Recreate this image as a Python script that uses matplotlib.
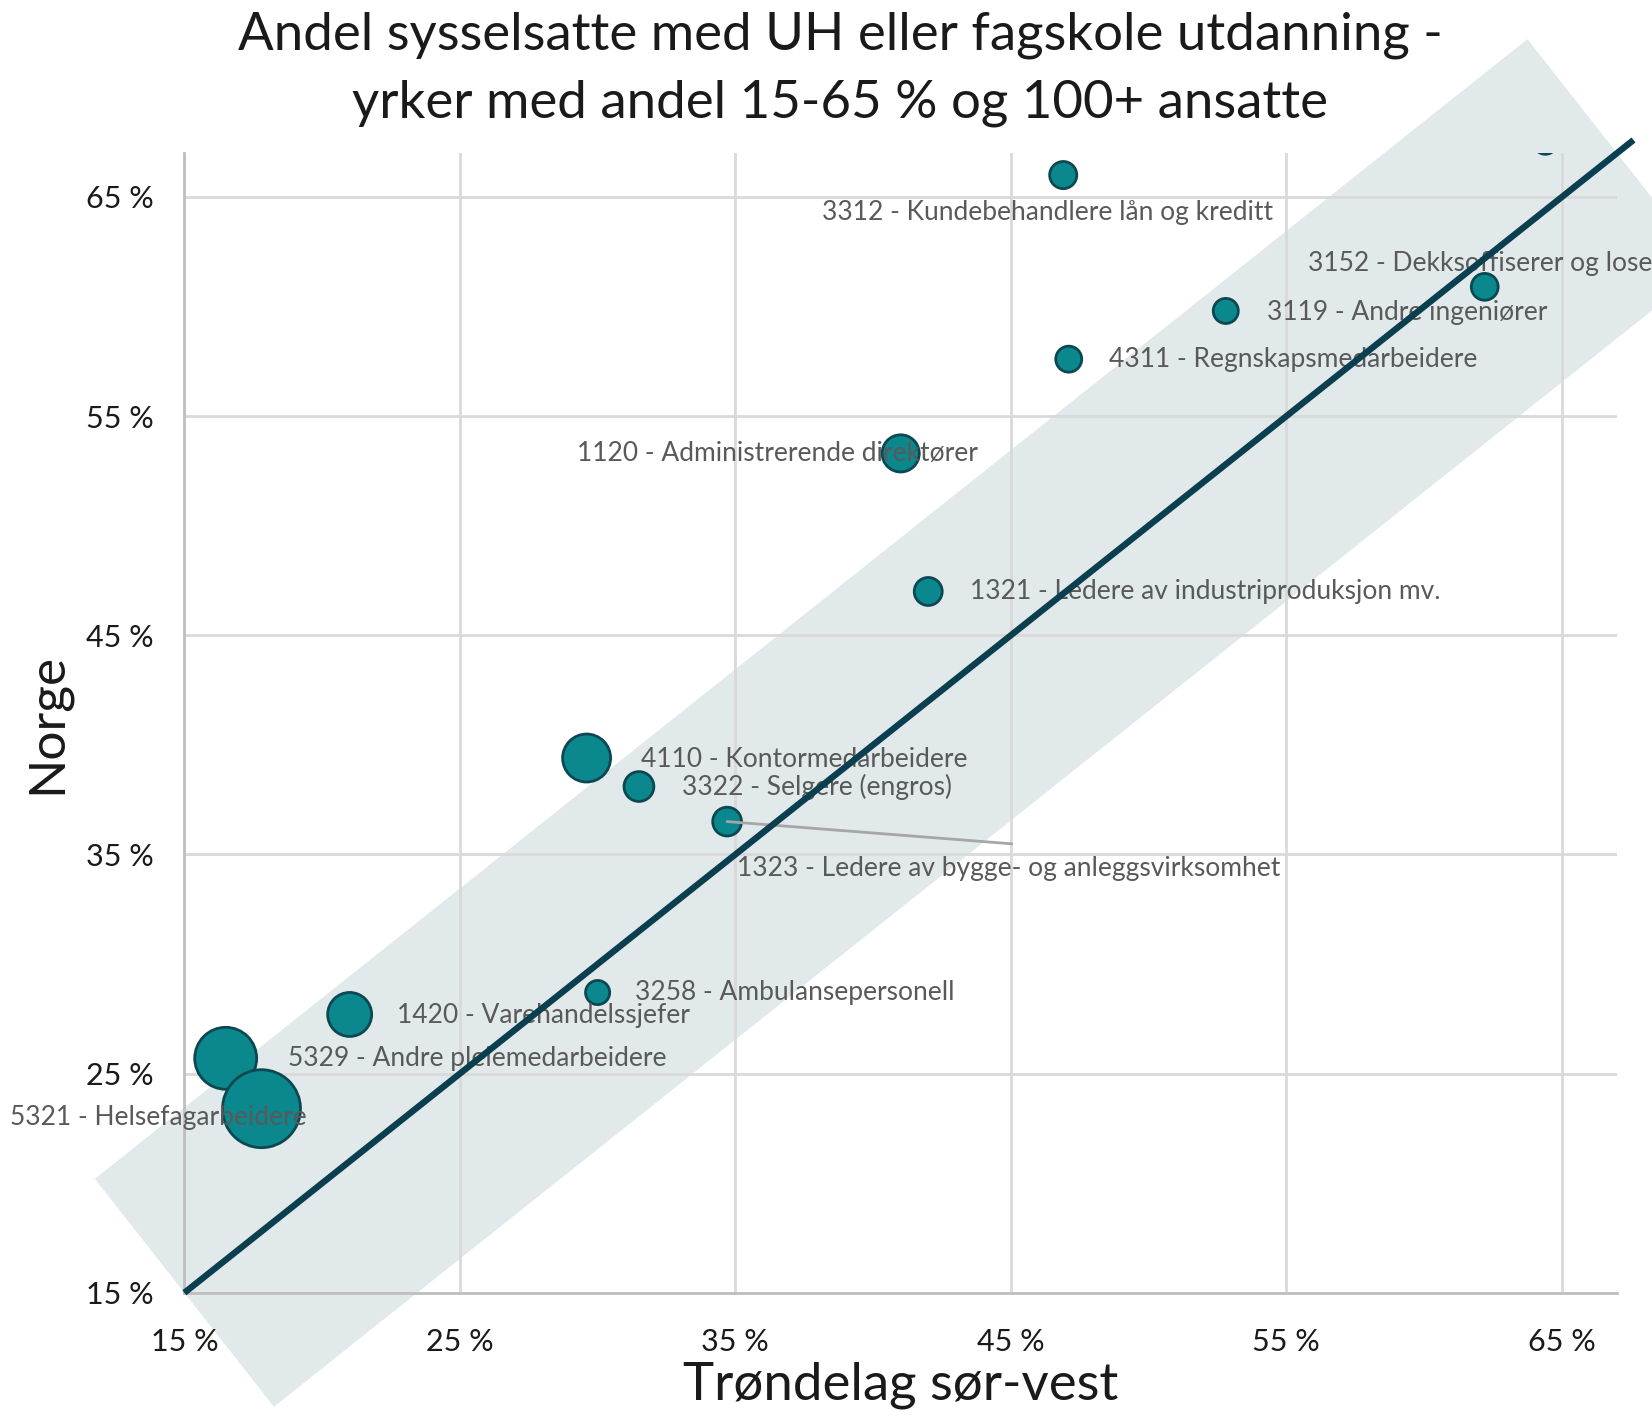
import numpy as np
import matplotlib
matplotlib.use('Agg')
import matplotlib.pyplot as plt
from matplotlib.patches import Polygon

plt.rcParams['font.family'] = ['Lato', 'DejaVu Sans']

# Andel sysselsatte med UH/fagskole (%), Trøndelag sør-vest (x) mot Norge (y)
yrker = [
    '3312 - Kundebehandlere lån og kreditt',
    '3152 - Dekksoffiserer og lose',
    '3119 - Andre ingeniører',
    '4311 - Regnskapsmedarbeidere',
    '1120 - Administrerende direktører',
    '1321 - Ledere av industriproduksjon mv.',
    '4110 - Kontormedarbeidere',
    '3322 - Selgere (engros)',
    '1323 - Ledere av bygge- og anleggsvirksomhet',
    '3258 - Ambulansepersonell',
    '1420 - Varehandelssjefer',
    '5329 - Andre pleiemedarbeidere',
    '5321 - Helsefagarbeidere',
    '',
]
trondelag = [46.9, 62.2, 52.8, 47.1, 41.0, 42.0, 29.6, 31.5, 34.7, 30.0, 21.0, 16.5, 17.8, 64.4]
norge = [66.0, 60.9, 59.8, 57.6, 53.3, 47.0, 39.4, 38.1, 36.5, 28.7, 27.7, 25.7, 23.4, 67.5]
ansatte = [240, 235, 205, 220, 450, 255, 750, 290, 270, 190, 630, 1250, 1980, 190]

ticks = [15, 25, 35, 45, 55, 65]

# label placement (offset points from bubble, left edge of text)
label_offset = {
    '3312': (-174, -27),
    '3152': (-127, 17),
    '3119': (30, -1),
    '4311': (29, 0),
    '1120': (-233, 0),
    '1321': (30, 0),
    '4110': (39, -1),
    '3322': (31, 0),
    '1323': (7, -34),
    '3258': (27, 0),
    '1420': (34, -1),
    '5329': (45, 0),
    '5321': (-181, -6),
}

teal = '#0b878e'
teal_edge = '#0c4852'
line_col = '#0b3f4f'
label_col = '#595959'

fig = plt.figure(figsize=(16.52, 14.18), dpi=100)
ax = fig.add_axes([0.1116, 0.0883, 0.8672, 0.8037])
ax.set_xlim(15, 67)
ax.set_ylim(15, 67)

# light band around the 1:1 line
start = np.array([15.0, 15.0])
end = np.array([67.0, 67.0])
half = np.array([3.25, -5.2])
band = Polygon([start - half, start + half, end + half, end - half],
               closed=True, facecolor='#e1e9eb', edgecolor='none',
               zorder=0.2, clip_on=False)
ax.add_patch(band)

ax.set_axisbelow(True)
ax.grid(color='#d9d9d9', lw=2)
for s in ['top', 'right']:
    ax.spines[s].set_visible(False)
for s in ['left', 'bottom']:
    ax.spines[s].set_color('#bfbfbf')
    ax.spines[s].set_linewidth(2)

sizes = np.array(ansatte) * 3150 / max(ansatte)
ax.scatter(trondelag, norge, s=sizes, c=teal, edgecolors=teal_edge,
           linewidths=2, zorder=3)

for name, x, y in zip(yrker, trondelag, norge):
    if not name:
        continue
    code = name.split(' ')[0]
    ax.annotate(name, (x, y), xytext=label_offset[code],
                textcoords='offset points', ha='left', va='center',
                fontsize=19, color=label_col, zorder=4)

# leader line for 1323
i = [n.split(' ')[0] for n in yrker].index('1323')
ax.annotate('', xy=(trondelag[i], norge[i]), xytext=(205, -16),
            textcoords='offset points',
            arrowprops=dict(arrowstyle='-', color='#a6a6a6', lw=2,
                            shrinkA=0, shrinkB=0), zorder=4)

# 1:1 line
lo, hi = ax.get_xlim()
diag = np.array([lo, hi + 0.6])
ax.plot(diag, diag, color=line_col, lw=4.6, zorder=5, clip_on=False,
        solid_capstyle='butt')

ax.set_xticks(ticks)
ax.set_yticks(ticks)
ax.set_xticklabels([f'{t} %' for t in ticks])
ax.set_yticklabels([f'{t} %' for t in ticks])
ax.tick_params(length=0, labelsize=22, labelcolor='#1a1a1a')
ax.tick_params(axis='x', pad=25)
ax.tick_params(axis='y', pad=22)

ax.set_xlabel('Trøndelag sør-vest', fontsize=38, color='#1a1a1a')
ax.set_ylabel('Norge', fontsize=37, color='#1a1a1a')
ax.xaxis.set_label_coords(0.5, -0.0807)
ax.yaxis.set_label_coords(-0.0956, 0.5)
ax.xaxis.label.set_va('center')
ax.yaxis.label.set_va('center')

fig.text(0.5085, 0.975, 'Andel sysselsatte med UH eller fagskole utdanning -',
         ha='center', va='center', fontsize=38, color='#1a1a1a')
fig.text(0.5085, 0.927, 'yrker med andel 15-65 % og 100+ ansatte',
         ha='center', va='center', fontsize=38, color='#1a1a1a')

fig.savefig('out.png', dpi=100)
